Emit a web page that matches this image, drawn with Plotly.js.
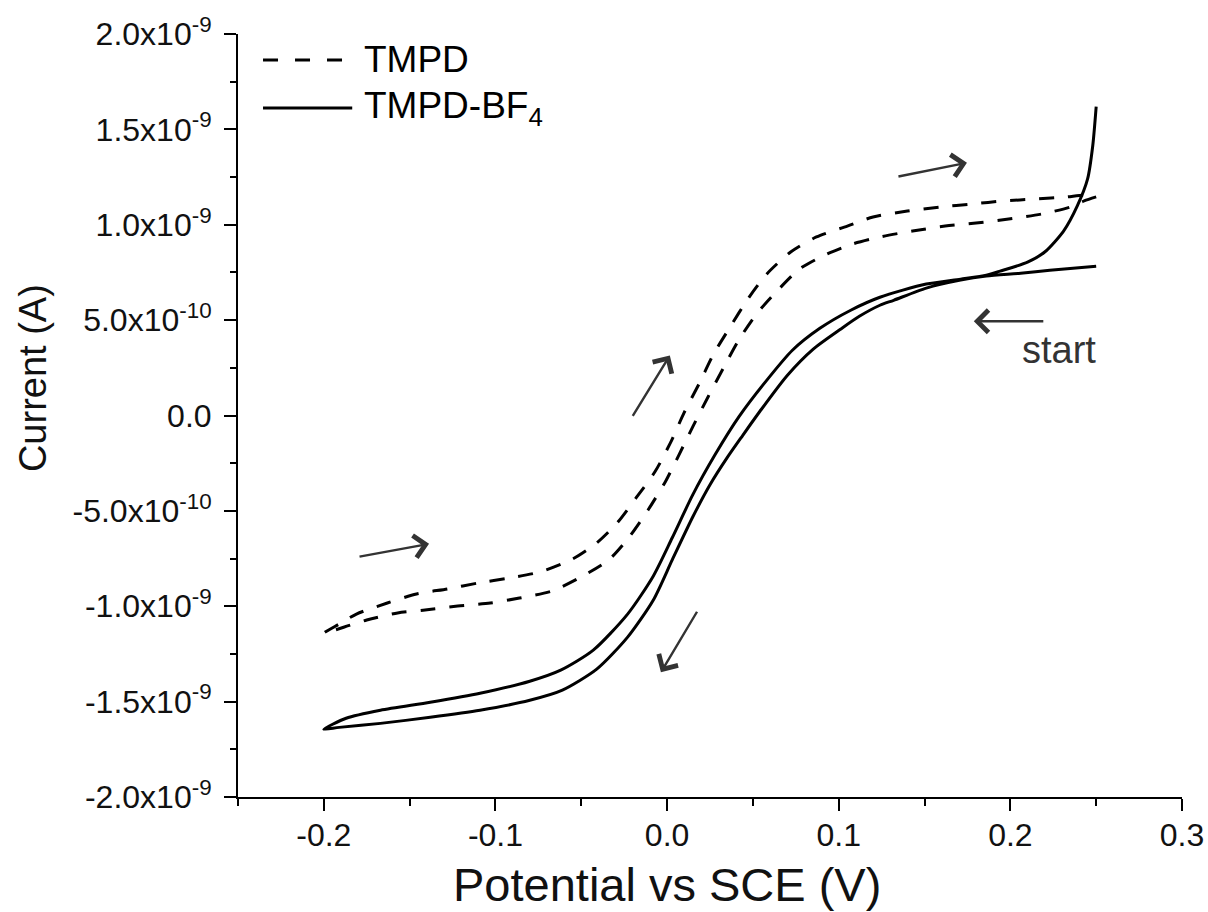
<!DOCTYPE html>
<html>
<head>
<meta charset="utf-8">
<script src="https://cdn.plot.ly/plotly-3.0.1.min.js"></script>
<style>
  html, body { margin: 0; padding: 0; background: #ffffff; }
  #chart { width: 1208px; height: 912px; }
</style>
</head>
<body>
<div id="chart"></div>
<script>
// ---------- data (potential in V, current in nA) ----------
// TMPD: cathodic sweep (lower branch, 0.25 -> -0.2 V)
var tmpdLowerV = [0.250, 0.243, 0.235, 0.218, 0.199, 0.180, 0.162, 0.143, 0.124, 0.108, 0.093, 0.077, 0.064, 0.052, 0.042, 0.033, 0.024, 0.015, 0.007, -0.001, -0.011, -0.022, -0.034, -0.050, -0.067, -0.086, -0.103, -0.122, -0.141, -0.157, -0.175, -0.188, -0.200];
var tmpdLowerI = [1.146, 1.125, 1.093, 1.056, 1.030, 1.009, 0.993, 0.967, 0.936, 0.899, 0.846, 0.767, 0.652, 0.531, 0.399, 0.252, 0.100, -0.058, -0.205, -0.347, -0.494, -0.636, -0.757, -0.846, -0.920, -0.957, -0.983, -0.999, -1.020, -1.035, -1.072, -1.109, -1.141];
// TMPD: anodic sweep (upper branch, -0.2 -> 0.25 V)
var tmpdUpperV = [-0.200, -0.191, -0.181, -0.163, -0.146, -0.128, -0.110, -0.092, -0.074, -0.055, -0.041, -0.029, -0.018, -0.007, 0.002, 0.010, 0.019, 0.027, 0.037, 0.047, 0.058, 0.072, 0.087, 0.105, 0.120, 0.140, 0.159, 0.178, 0.196, 0.215, 0.233, 0.243, 0.250];
var tmpdUpperI = [-1.141, -1.093, -1.041, -0.983, -0.936, -0.909, -0.878, -0.852, -0.820, -0.752, -0.668, -0.562, -0.431, -0.294, -0.142, 0.016, 0.173, 0.321, 0.468, 0.610, 0.741, 0.857, 0.936, 0.993, 1.041, 1.072, 1.093, 1.109, 1.125, 1.135, 1.146, 1.155, 1.142];

// TMPD-BF4: cathodic sweep (from start at 0.25 V down to -0.2 V)
var bf4LowerV = [0.250, 0.223, 0.206, 0.186, 0.171, 0.151, 0.132, 0.124, 0.112, 0.101, 0.085, 0.070, 0.054, 0.044, 0.035, 0.025, 0.015, 0.003, -0.008, -0.023, -0.041, -0.061, -0.080, -0.109, -0.138, -0.167, -0.191, -0.200];
var bf4LowerI = [0.783, 0.762, 0.746, 0.731, 0.710, 0.668, 0.604, 0.578, 0.520, 0.452, 0.347, 0.210, 0.021, -0.105, -0.221, -0.363, -0.531, -0.757, -0.967, -1.162, -1.330, -1.440, -1.493, -1.545, -1.582, -1.614, -1.635, -1.645];
// TMPD-BF4: anodic sweep (-0.2 V back to 0.25 V)
var bf4UpperV = [-0.200, -0.187, -0.167, -0.138, -0.109, -0.080, -0.062, -0.043, -0.023, -0.008, 0.003, 0.015, 0.028, 0.042, 0.058, 0.073, 0.089, 0.107, 0.124, 0.151, 0.171, 0.186, 0.194, 0.210, 0.220, 0.231, 0.239, 0.245, 0.248, 0.250];
var bf4UpperI = [-1.645, -1.587, -1.545, -1.503, -1.456, -1.393, -1.335, -1.230, -1.041, -0.841, -0.641, -0.415, -0.205, -0.005, 0.184, 0.342, 0.457, 0.552, 0.620, 0.689, 0.715, 0.736, 0.757, 0.804, 0.857, 0.967, 1.099, 1.240, 1.414, 1.619];

// axis ticks
var xTickVals = [-0.2, -0.1, 0.0, 0.1, 0.2, 0.3];
var xTickText = ['-0.2', '-0.1', '0.0', '0.1', '0.2', '0.3'];
var yTickVals = [-2.0e-9, -1.5e-9, -1.0e-9, -5.0e-10, 0, 5.0e-10, 1.0e-9, 1.5e-9, 2.0e-9];
var yTickText = ['-2.0x10<sup>-9</sup>', '-1.5x10<sup>-9</sup>', '-1.0x10<sup>-9</sup>', '-5.0x10<sup>-10</sup>', '0.0',
                 '5.0x10<sup>-10</sup>', '1.0x10<sup>-9</sup>', '1.5x10<sup>-9</sup>', '2.0x10<sup>-9</sup>'];
var xTitle = 'Potential vs SCE (V)';
var yTitle = 'Current (A)';

// scan-direction arrows: head position (V, nA) and tail offset (px)
var arrowHeadV = [0.1747, 0.1787, -0.1387, 0.0016, -0.0036];
var arrowHeadI = [1.325, 0.494, -0.673, 0.315, -1.346];
var arrowTailDx = [-70, 71, -71, -38, 37];
var arrowTailDy = [14, 0, 13, 62, -62];

var seriesNames = ['TMPD', 'TMPD-BF<sub>4</sub>'];

// ---------- build ----------
function nA(arr) { return arr.map(function (v) { return v * 1e-9; }); }

var tmpdTrace = {
  x: tmpdLowerV.concat(tmpdUpperV.slice(1)),
  y: nA(tmpdLowerI.concat(tmpdUpperI.slice(1))),
  mode: 'lines', name: seriesNames[0], showlegend: false,
  line: { color: '#000000', width: 3, dash: '15px,14px', shape: 'spline', smoothing: 0.7 }
};
var bf4Trace = {
  x: bf4LowerV.concat(bf4UpperV.slice(1)),
  y: nA(bf4LowerI.concat(bf4UpperI.slice(1))),
  mode: 'lines', name: seriesNames[1], showlegend: false,
  line: { color: '#000000', width: 3, shape: 'spline', smoothing: 0.7 }
};

var fontFam = '"Liberation Sans", Arial, Helvetica, sans-serif';
var annotations = [];
for (var i = 0; i < arrowHeadV.length; i++) {
  annotations.push({
    x: arrowHeadV[i], y: arrowHeadI[i] * 1e-9, xref: 'x', yref: 'y',
    ax: arrowTailDx[i], ay: arrowTailDy[i], axref: 'pixel', ayref: 'pixel',
    text: '', showarrow: true, arrowhead: 4, arrowsize: 1.8, arrowwidth: 2.4,
    arrowcolor: '#333333', standoff: 0, startstandoff: 0
  });
}
annotations.push({
  x: 0.2283, y: 0.345e-9, xref: 'x', yref: 'y', text: 'start', showarrow: false,
  xanchor: 'center', yanchor: 'middle', font: { family: fontFam, size: 38, color: '#333333' }
});
// legend text
annotations.push({
  x: 0.131, y: 0.966, xref: 'paper', yref: 'paper', text: seriesNames[0], showarrow: false,
  xanchor: 'left', yanchor: 'middle', font: { family: fontFam, size: 37, color: '#000000' }
});
annotations.push({
  x: 0.131, y: 0.903, xref: 'paper', yref: 'paper', text: seriesNames[1], showarrow: false,
  xanchor: 'left', yanchor: 'middle', font: { family: fontFam, size: 37, color: '#000000' }
});
// axis titles
annotations.push({
  x: 0.4544, y: -0.1153, xref: 'paper', yref: 'paper', text: xTitle, showarrow: false,
  xanchor: 'center', yanchor: 'middle', font: { family: fontFam, size: 47, color: '#111111' }
});
annotations.push({
  x: -0.2172, y: 0.549, xref: 'paper', yref: 'paper', text: yTitle, showarrow: false, textangle: -90,
  xanchor: 'center', yanchor: 'middle', font: { family: fontFam, size: 38, color: '#111111' }
});

var shapes = [
  { type: 'line', xref: 'paper', yref: 'paper', x0: 0.0265, x1: 0.111, y0: 0.966, y1: 0.966,
    line: { color: '#000000', width: 3, dash: '15px,17px' } },
  { type: 'line', xref: 'paper', yref: 'paper', x0: 0.0265, x1: 0.121, y0: 0.903, y1: 0.903,
    line: { color: '#000000', width: 3 } }
];

var axisCommon = {
  showline: true, linecolor: '#000000', linewidth: 2, mirror: false,
  showgrid: false, zeroline: false, ticks: 'outside', ticklen: 12, tickwidth: 2, tickcolor: '#000000',
  tickfont: { family: fontFam, size: 32, color: '#111111' }
};

var layout = {
  width: 1208, height: 912,
  margin: { l: 238, r: 26, t: 34, b: 115, pad: 0 },
  paper_bgcolor: '#ffffff', plot_bgcolor: '#ffffff',
  showlegend: false,
  xaxis: Object.assign({}, axisCommon, {
    range: [-0.25, 0.3], tickmode: 'array', tickvals: xTickVals, ticktext: xTickText,
    ticklabelstandoff: -3,
    minor: { tick0: 0, dtick: 0.05, ticks: 'outside', ticklen: 7, tickwidth: 2, tickcolor: '#000000' }
  }),
  yaxis: Object.assign({}, axisCommon, {
    range: [-2e-9, 2e-9], tickmode: 'array', tickvals: yTickVals, ticktext: yTickText,
    ticklabelstandoff: 6,
    minor: { tick0: 0, dtick: 0.25e-9, ticks: 'outside', ticklen: 6, tickwidth: 2, tickcolor: '#000000' }
  }),
  annotations: annotations,
  shapes: shapes
};

Plotly.newPlot('chart', [tmpdTrace, bf4Trace], layout, { displayModeBar: false, staticPlot: true });
</script>
</body>
</html>
